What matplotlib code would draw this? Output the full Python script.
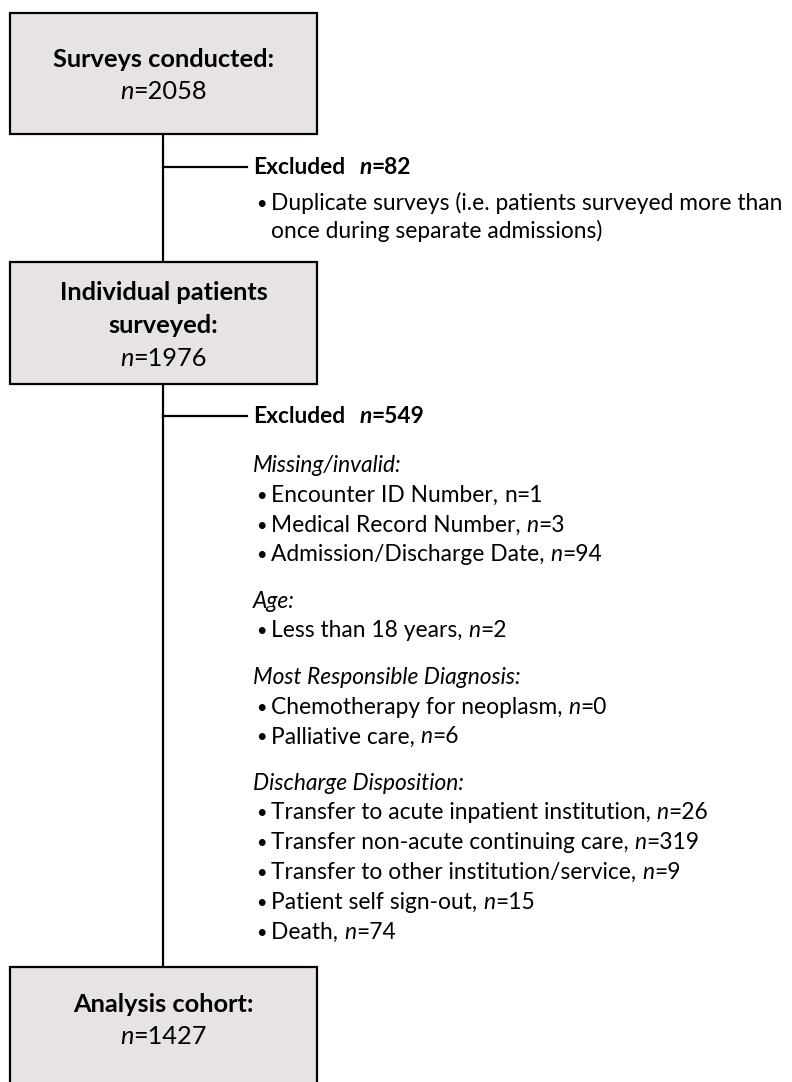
import matplotlib
matplotlib.use("Agg")
import matplotlib.pyplot as plt
from matplotlib.patches import Rectangle

FONT = ["Lato", "DejaVu Sans"]

# flowchart content
box_titles = [["Surveys conducted:"], ["Individual patients", "surveyed:"], ["Analysis cohort:"]]
box_n = [2058, 1976, 1427]
excluded_n = [82, 549]
dup_lines = ["Duplicate surveys (i.e. patients surveyed more than", "once during separate admissions)"]
groups = ["Missing/invalid:", "Age:", "Most Responsible Diagnosis:", "Discharge Disposition:"]
group_items = [
    ["Encounter ID Number", "Medical Record Number", "Admission/Discharge Date"],
    ["Less than 18 years"],
    ["Chemotherapy for neoplasm", "Palliative care"],
    ["Transfer to acute inpatient institution", "Transfer non-acute continuing care",
     "Transfer to other institution/service", "Patient self sign-out", "Death"],
]
group_counts = [[1, 3, 94], [2], [0, 6], [26, 319, 9, 15, 74]]
italic_n = [[False, True, True], [True], [True, True], [True, True, True, True, True]]

W, H = 792, 1082
fig = plt.figure(figsize=(W / 100, H / 100), dpi=100)
ax = fig.add_axes([0, 0, 1, 1])
ax.set_xlim(0, W)
ax.set_ylim(H, 0)
ax.axis("off")
renderer = fig.canvas.get_renderer()

FILL = "#e8e3e3"
LW = 1.6
BODY = 16.4
TITLE = 18.3


def runs(x, y, parts, size, align="left"):
    # parts: list of (text, style, weight); drawn side by side on one baseline
    texts = []
    total = 0
    for s, st, wt in parts:
        t = ax.text(0, y, s, fontsize=size, style=st, weight=wt, family=FONT,
                    va="baseline", ha="left", color="black")
        w = t.get_window_extent(renderer).width
        texts.append((t, w))
        total += w
    if align == "center":
        x = x - total / 2
    for t, w in texts:
        t.set_x(x)
        x += w


def nparts(n, italic=True, weight="normal"):
    return [("n", "italic" if italic else "normal", weight), ("=%d" % n, "normal", weight)]


def bullet(y):
    ax.text(256, y - 1, "\u2022", fontsize=BODY * 0.8, family=FONT, va="baseline", ha="left")


# boxes
box_x0, box_x1 = 10, 317
box_y = [(13, 134), (262, 384), (967, 1100)]
text_mid = [75, 325, 1020]
cx = (box_x0 + box_x1) / 2
step = 32.5
for (y0, y1), title, n, ym in zip(box_y, box_titles, box_n, text_mid):
    ax.add_patch(Rectangle((box_x0, y0), box_x1 - box_x0, y1 - y0, facecolor=FILL,
                           edgecolor="black", lw=LW, zorder=1))
    nl = len(title) + 1
    first = ym - step * (nl - 1) / 2
    for i, line in enumerate(title):
        runs(cx, first + i * step + 8, [(line, "normal", "bold")], TITLE, "center")
    runs(cx, first + (nl - 1) * step + 8, nparts(n), TITLE, "center")

# connectors
vx = 163
ax.plot([vx, vx], [box_y[0][1], box_y[1][0]], color="black", lw=LW, zorder=0)
ax.plot([vx, vx], [box_y[1][1], box_y[2][0]], color="black", lw=LW, zorder=0)

tx = 253
branch_y = [167, 416]
for by, n in zip(branch_y, excluded_n):
    ax.plot([vx, 247], [by, by], color="black", lw=LW)
    t = ax.text(tx, by + 7, "Excluded", fontsize=BODY, weight="bold", family=FONT,
                va="baseline", ha="left")
    w = t.get_window_extent(renderer).width
    runs(tx + w + 14, by + 7, nparts(n, True, "bold"), BODY)

# first exclusion details
ix = 271
line_h = 29.8
y = 203 + 7
for i, line in enumerate(dup_lines):
    if i == 0:
        bullet(y)
    ax.text(ix, y, line, fontsize=BODY, family=FONT, va="baseline", ha="left")
    y += 28

# second exclusion details
y = 465 + 7
for g, items, counts, its in zip(groups, group_items, group_counts, italic_n):
    ax.text(tx, y, g, fontsize=BODY, style="italic", family=FONT, va="baseline", ha="left")
    y += line_h
    for item, c, it in zip(items, counts, its):
        bullet(y)
        runs(ix, y, [(item + ", ", "normal", "normal")] + nparts(c, it), BODY)
        y += line_h
    y += 16.5

fig.savefig("out.png", dpi=100, facecolor="white")
